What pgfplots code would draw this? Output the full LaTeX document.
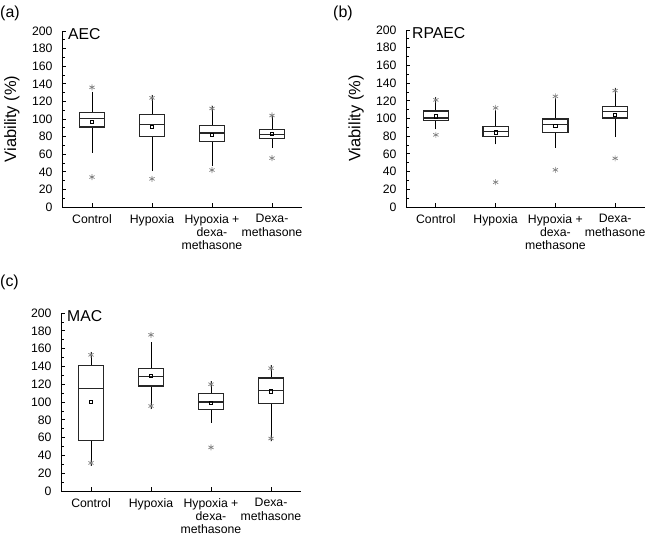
\documentclass[border=0pt]{standalone}
\usepackage{pgfplots}
\usepackage{pgfplotstable}
\pgfplotsset{compat=1.18}
\usepackage{fontspec}
\setmainfont{Liberation Sans}

% x: category, lw/q1/med/q3/uw: whiskers and quartiles, mean
\pgfplotstableread{
x lw q1 med q3 uw mean
1 65 91 101 107 128 97
2 44 80.5 94 105 124 91
3 49.5 74 84 93 112 82
4 70 78 82 88 101 83
}\tblA
\pgfplotstableread{
x y
1 136
1 34
2 124
2 32
3 112
3 42
4 104
4 55.5
}\outA
\pgfplotstableread{
x lw q1 med q3 uw mean
1 91 98 100.5 108.5 121 102.5
2 74 80 85 91 106 84.5
3 70 84 93.5 99.5 120 91.5
4 82 100.5 107.5 113.5 131.5 104.5
}\tblB
\pgfplotstableread{
x y
1 121
1 81.5
2 112
2 28
3 125
3 42
4 131.5
4 55
}\outB
\pgfplotstableread{
x lw q1 med q3 uw mean
1 31.5 57 115 141 153 100
2 95.5 118 128.5 137.5 164 129
3 80 92 100 110 120 99
4 59 98 113 127 138 112
}\tblC
\pgfplotstableread{
x y
1 153
1 31.5
2 175.5
2 95.5
3 120
3 49
4 138
4 59
}\outC

\tikzset{ttl/.style={anchor=north west, font=\fontsize{15.8}{17}\selectfont, inner sep=0pt, xshift=6bp, yshift=3bp}}
\pgfplotsset{
 panel/.style={
  scale only axis, width=240bp, height=176bp,
  anchor=south west,
  xmin=0.5, xmax=4.5, ymin=0, ymax=200,
  axis lines=left, axis line style={-, line width=0.9bp},
  xtick={1,2,3,4},
  xticklabels={Control, Hypoxia, {Hypoxia +\\dexa-\\methasone}, {Dexa-\\methasone}},
  xticklabel style={align=center, font=\fontsize{12.3}{13.3}\selectfont, yshift=-4bp},
  ytick={0,20,...,200}, minor ytick={10,30,...,190},
  yticklabel style={font=\fontsize{12.3}{14}\selectfont, xshift=-6bp},
  tick align=inside,
  major tick length=4bp, minor tick length=3bp,
  tick style={black, line width=0.8bp},
  /pgf/number format/assume math mode=true,
  every axis y label/.style={at={(axis description cs:0,0.5)}, xshift=-50bp, rotate=90, anchor=center, font=\fontsize{16.5}{18}\selectfont},
  clip=false,
 },
 ebs/.style={draw=none, mark=none, /pgfplots/error bars/error bar style={draw=black!85, line width=1.2bp, line cap=rect, solid}},
 ebw/.style={draw=none, mark=none, /pgfplots/error bars/error bar style={draw=black, line width=0.9bp, solid}},
 mn/.style={only marks, mark=square, mark size=1.6bp, black, line width=0.6bp},
 ol/.style={only marks, mark=asterisk, mark size=3bp, black!50, line width=0.7bp},
}

\newcommand\boxes[2]{%
 \addplot[ebw, error bars/.cd, y dir=plus, y explicit, error mark=-, error mark options={black, line width=0.9bp, mark size=2.8bp}] table[x=x, y=q3, y error plus expr=\thisrow{uw}-\thisrow{q3}] {#1};
 \addplot[ebw, error bars/.cd, y dir=minus, y explicit, error mark=-, error mark options={black, line width=0.9bp, mark size=2.8bp}] table[x=x, y=q1, y error minus expr=\thisrow{q1}-\thisrow{lw}] {#1};
 \addplot[ebs, error bars/.cd, x dir=both, x fixed=0.21, error mark=none] table[x=x, y=q1] {#1};
 \addplot[ebs, error bars/.cd, x dir=both, x fixed=0.21, error mark=none] table[x=x, y=q3] {#1};
 \addplot[ebs, error bars/.cd, x dir=both, x fixed=0.21, error mark=none] table[x=x, y=med] {#1};
 \addplot[ebs, error bars/.cd, y dir=both, y explicit, error mark=none] table[x expr=\thisrow{x}-0.21, y expr=0.5*(\thisrow{q1}+\thisrow{q3}), y error expr=0.5*(\thisrow{q3}-\thisrow{q1})] {#1};
 \addplot[ebs, error bars/.cd, y dir=both, y explicit, error mark=none] table[x expr=\thisrow{x}+0.21, y expr=0.5*(\thisrow{q1}+\thisrow{q3}), y error expr=0.5*(\thisrow{q3}-\thisrow{q1})] {#1};
 \addplot[mn] table[x=x, y=mean] {#1};
 \addplot[ol] table[x=x, y=y] {#2};
}

\begin{document}
\begin{tikzpicture}
\path[use as bounding box] (0,0) rectangle (651bp,541bp);
\node[anchor=west, inner sep=0pt, font=\fontsize{16}{18}\selectfont] at (0bp,528bp) {(a)};
\node[anchor=west, inner sep=0pt, font=\fontsize{16}{18}\selectfont] at (333bp,528bp) {(b)};
\node[anchor=west, inner sep=0pt, font=\fontsize{16}{18}\selectfont] at (0bp,259bp) {(c)};

\begin{axis}[panel, at={(62bp,334bp)}, ylabel={Viability (\%)}]
\node[ttl] at (rel axis cs:0,1) {AEC};
\boxes{\tblA}{\outA}
\end{axis}

\begin{axis}[panel, at={(406bp,334bp)}, width=239bp, height=177bp, ylabel={Viability (\%)}]
\node[ttl] at (rel axis cs:0,1) {RPAEC};
\boxes{\tblB}{\outB}
\end{axis}

\begin{axis}[panel, at={(61bp,50bp)}, height=178bp]
\node[ttl] at (rel axis cs:0,1) {MAC};
\boxes{\tblC}{\outC}
\end{axis}
\end{tikzpicture}
\end{document}
